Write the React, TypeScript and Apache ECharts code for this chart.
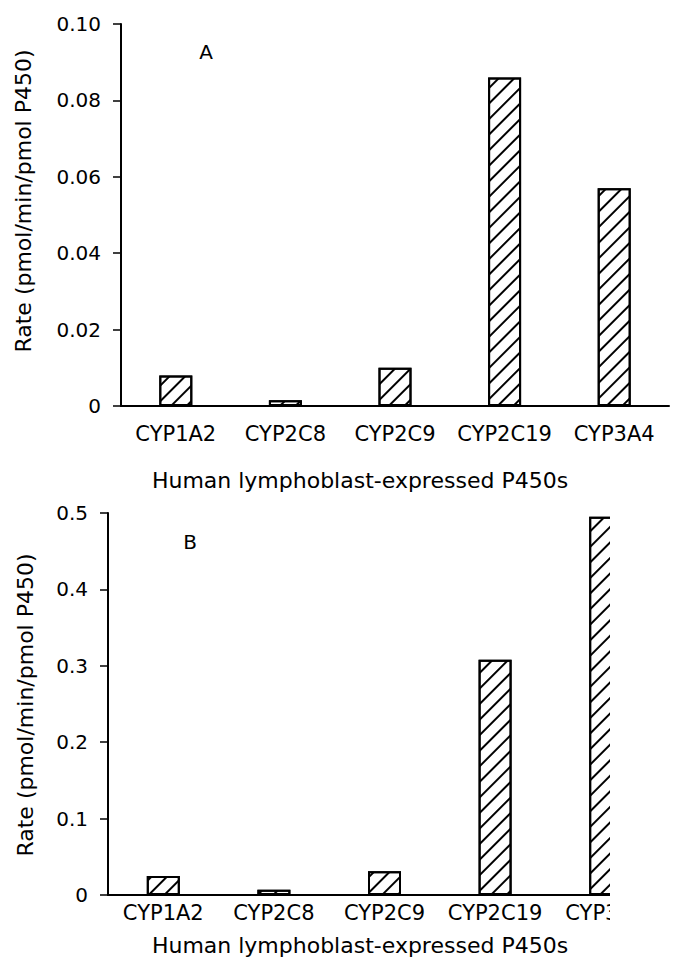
import React, { useEffect, useRef } from "react";
import * as echarts from "echarts";

const categories = ["CYP1A2", "CYP2C8", "CYP2C9", "CYP2C19", "CYP3A4"];
const ratesA = [0.008, 0.0015, 0.01, 0.086, 0.057];
const ratesB = [0.025, 0.007, 0.031, 0.308, 0.495];
const yTicksA = { min: 0, max: 0.1, interval: 0.02 };
const yTicksB = { min: 0, max: 0.5, interval: 0.1 };
const xTitle = "Human lymphoblast-expressed P450s";
const yTitle = "Rate (pmol/min/pmol P450)";
const panelLabels = ["A", "B"];

const FONT = "DejaVu Sans";

const hatch = {
  symbol: "rect",
  symbolSize: 1,
  dashArrayX: [1, 0],
  dashArrayY: [1.2, 8.4],
  rotation: -Math.PI / 4,
  color: "#000",
  backgroundColor: "#fff",
};

export default function App() {
  const ref = useRef<HTMLDivElement>(null);
  useEffect(() => {
    if (!ref.current) return;
    const chart = echarts.init(ref.current, undefined, { renderer: "svg" });
    const axisLine = { show: true, lineStyle: { color: "#000", width: 2 } };
    const mkX = (gridIndex: number, margin: number) => ({
      type: "category",
      gridIndex,
      data: categories,
      axisLine: { ...axisLine, onZero: false },
      axisTick: { show: false },
      axisLabel: { color: "#000", fontFamily: FONT, fontSize: 21, margin, interval: 0 },
      splitLine: { show: false },
    });
    const mkY = (gridIndex: number, t: any, digits: number) => ({
      type: "value",
      gridIndex,
      min: t.min,
      max: t.max,
      interval: t.interval,
      axisLine,
      axisTick: { show: true, length: 8, inside: false, lineStyle: { color: "#000", width: 1.5 } },
      axisLabel: {
        color: "#000",
        fontFamily: FONT,
        fontSize: 20,
        margin: 20,
        formatter: (v: number) => (v === 0 ? "0" : v.toFixed(digits)),
      },
      splitLine: { show: false },
    });
    const barStyle = {
      color: "#fff",
      borderColor: "#000",
      borderWidth: 2,
      decal: hatch,
    };
    chart.setOption({
      animation: false,
      backgroundColor: "#fff",
      grid: [
        { left: 121, top: 24, width: 548, height: 382 },
        { left: 108, top: 513, width: 553, height: 382 },
      ],
      xAxis: [mkX(0, 17), mkX(1, 7)],
      yAxis: [mkY(0, yTicksA, 2), mkY(1, yTicksB, 1)],
      series: [
        {
          type: "bar",
          xAxisIndex: 0,
          yAxisIndex: 0,
          data: ratesA,
          barWidth: 33,
          itemStyle: barStyle,
        },
        {
          type: "bar",
          xAxisIndex: 1,
          yAxisIndex: 1,
          data: ratesB,
          barWidth: 33,
          itemStyle: barStyle,
        },
      ],
      graphic: [
        {
          type: "rect",
          z: 100,
          shape: { x: 610, y: 500, width: 71, height: 440 },
          style: { fill: "#fff" },
        },
        {
          type: "text",
          z: 110,
          x: 206,
          y: 52,
          style: { text: panelLabels[0], font: `20px '${FONT}'`, fill: "#000", align: "center", verticalAlign: "middle" },
        },
        {
          type: "text",
          z: 110,
          x: 190,
          y: 542,
          style: { text: panelLabels[1], font: `20px '${FONT}'`, fill: "#000", align: "center", verticalAlign: "middle" },
        },
        {
          type: "text",
          z: 110,
          x: 360,
          y: 480,
          style: { text: xTitle, font: `22px '${FONT}'`, fill: "#000", align: "center", verticalAlign: "middle" },
        },
        {
          type: "text",
          z: 110,
          x: 360,
          y: 945,
          style: { text: xTitle, font: `22px '${FONT}'`, fill: "#000", align: "center", verticalAlign: "middle" },
        },
        {
          type: "text",
          z: 110,
          x: 23,
          y: 201,
          rotation: Math.PI / 2,
          style: { text: yTitle, font: `22px '${FONT}'`, fill: "#000", align: "center", verticalAlign: "middle" },
        },
        {
          type: "text",
          z: 110,
          x: 25,
          y: 705,
          rotation: Math.PI / 2,
          style: { text: yTitle, font: `22px '${FONT}'`, fill: "#000", align: "center", verticalAlign: "middle" },
        },
      ],
    });
    return () => chart.dispose();
  }, []);
  return (
    <div
      ref={ref}
      style={{ position: "fixed", left: 0, top: 0, width: 681, height: 960, background: "#fff" }}
    />
  );
}
